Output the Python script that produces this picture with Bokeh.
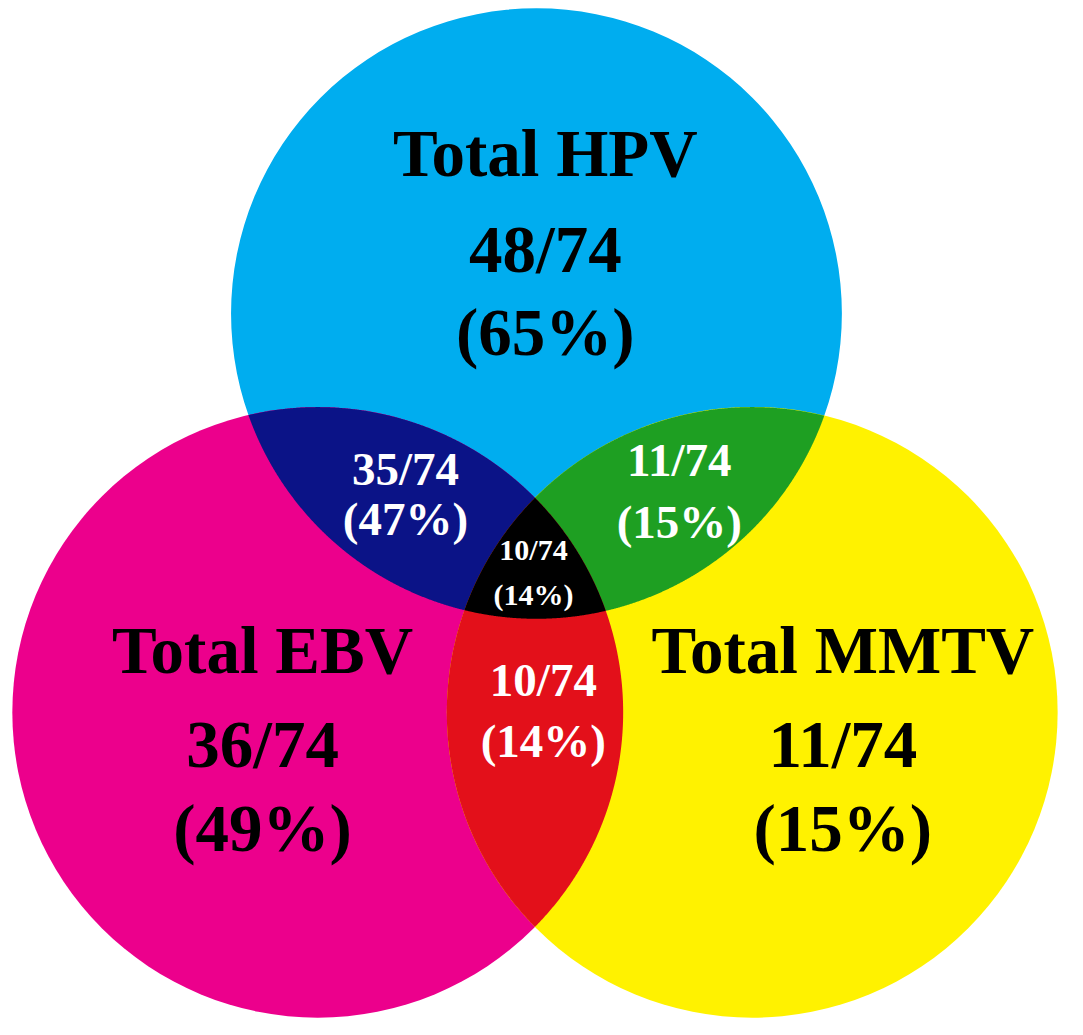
import numpy as np
from bokeh.plotting import figure
from bokeh.models import Range1d
from bokeh.core.properties import value
from bokeh.embed import file_html
from bokeh.resources import INLINE

# ---- data ----
total_n = 74
set_names = ["HPV", "EBV", "MMTV"]
set_counts = [48, 36, 11]
pair_names = ["HPV+EBV", "HPV+MMTV", "EBV+MMTV"]
pair_counts = [35, 11, 10]
triple_count = 10

set_colors = ["#00ADEF", "#EC008C", "#FFF200"]
pair_colors = ["#0B1387", "#1E9F22", "#E3101A"]
triple_color = "#000000"

# ---- layout (pixel-like coordinates, y grows downward) ----
W, H = 1067, 1019
centers = [(544, 318), (322, 723), (763, 723)]
radius = 310

p = figure(width=W, height=H, output_backend="svg", toolbar_location=None,
           x_range=Range1d(0, 1083), y_range=Range1d(1035, 0),
           min_border=0)
p.axis.visible = False
p.grid.visible = False
p.outline_line_color = None
p.background_fill_color = "white"
p.border_fill_color = "white"

def boundary(c, n=3000):
    t = np.linspace(0, 2 * np.pi, n, endpoint=False)
    return c[0] + radius * np.cos(t), c[1] + radius * np.sin(t)

def inside(x, y, c):
    return (x - c[0]) ** 2 + (y - c[1]) ** 2 <= radius ** 2 + 1e-6

def region(idx):
    xs, ys = [], []
    for i in idx:
        bx, by = boundary(centers[i])
        m = np.ones_like(bx, dtype=bool)
        for j in idx:
            if j != i:
                m &= inside(bx, by, centers[j])
        xs.append(bx[m]); ys.append(by[m])
    xs = np.concatenate(xs); ys = np.concatenate(ys)
    cx, cy = xs.mean(), ys.mean()
    order = np.argsort(np.arctan2(ys - cy, xs - cx))
    return list(xs[order]), list(ys[order])

# circles
p.circle(x=[c[0] for c in centers], y=[c[1] for c in centers], radius=radius,
         fill_color=set_colors, line_color=None)

# pairwise lenses
pair_idx = [(0, 1), (0, 2), (1, 2)]
pxs, pys = [], []
for a, b in pair_idx:
    x, y = region([a, b]); pxs.append(x); pys.append(y)
p.patches(xs=pxs, ys=pys, fill_color=pair_colors, line_color=None)

# triple
tx, ty = region([0, 1, 2])
p.patch(x=tx, y=ty, fill_color=triple_color, line_color=None)

def frac(k):
    return f"{k}/{total_n}"

def pct(k):
    return f"({int(np.floor(100 * k / total_n + 0.5))}%)"

font = value("Liberation Serif")

# big set labels
big_pos = [(553, [155, 252, 337]), (266, [660, 755, 840]), (855, [660, 755, 840])]
for name, k, (x, ys) in zip(set_names, set_counts, big_pos):
    p.text(x=[x, x, x], y=ys, text=[f"Total {name}", frac(k), pct(k)],
           text_font=font, text_font_style="bold", text_font_size="67px",
           text_color="black", text_align="center", text_baseline="middle")

# pair labels
pair_pos = [(411, [476, 527]), (689, [467, 530]), (551, [690, 752])]
for k, (x, ys) in zip(pair_counts, pair_pos):
    p.text(x=[x, x], y=ys, text=[frac(k), pct(k)],
           text_font=font, text_font_style="bold", text_font_size="47px",
           text_color="white", text_align="center", text_baseline="middle")

# triple label
p.text(x=[541, 541], y=[558, 603], text=[frac(triple_count), pct(triple_count)],
       text_font=font, text_font_style="bold", text_font_size="30px",
       text_color="white", text_align="center", text_baseline="middle")

open("out.html", "w").write(file_html(p, INLINE))
